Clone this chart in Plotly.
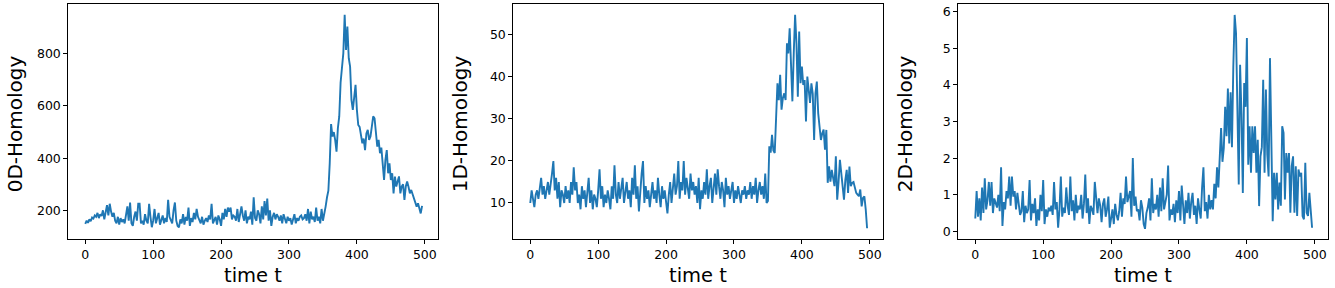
import plotly.graph_objects as go

# time axis, sampled every 2 steps
TIME = list(range(0, 498, 2))

HOMOLOGY_0D = [
    148, 160, 152, 165, 158, 172, 168, 180, 175, 190,
    170, 185, 178, 200, 165, 192, 220, 180, 225, 195,
    175, 190, 160, 150, 175, 145, 170, 155, 165, 150,
    180, 215, 160, 230, 150, 140, 175, 195, 160, 225,
    225, 150, 160, 145, 185, 160, 150, 225, 175, 135,
    160, 205, 150, 175, 190, 145, 165, 180, 150, 170,
    155, 240, 175, 160, 150, 200, 230, 160, 140, 135,
    165, 150, 185, 145, 175, 160, 210, 140, 170, 155,
    190, 165, 205, 175, 160, 150, 175, 145, 160, 170,
    155, 180, 165, 225, 150, 160, 175, 145, 180, 165,
    140, 190, 165, 205, 175, 210, 195, 210, 165, 180,
    175, 160, 205, 155, 195, 215, 180, 160, 200, 150,
    175, 165, 195, 145, 250, 170, 160, 200, 185, 150,
    215, 165, 235, 180, 245, 160, 200, 140, 175, 190,
    165, 185, 175, 160, 180, 150, 185, 165, 150, 175,
    160, 170, 145, 165, 185, 150, 170, 160, 175, 180,
    165, 170, 185, 160, 205, 150, 195, 165, 175, 155,
    210, 160, 175, 150, 205,
    160, 185, 215, 250, 275, 380, 531, 483, 500, 470,
    425, 515, 560, 690, 735, 802, 950, 815, 905, 783,
    751, 623, 585, 649, 681, 585, 527, 520, 495, 457,
    475, 431, 495, 508, 470, 483, 521, 560, 553, 490,
    444, 470, 419, 440, 368, 316, 393, 431, 342, 380,
    316, 342, 265, 329, 291, 316, 330, 265, 291, 300,
    240, 291, 310, 290, 265, 278, 260, 240, 225, 214,
    227, 201, 188, 217,
]

HOMOLOGY_1D = [
    10, 13, 11, 9, 12, 13, 11, 14, 16, 12,
    14, 11, 13, 15, 12, 14, 17, 20, 13, 16,
    11, 15, 9, 13, 12, 10, 14, 11, 13, 10,
    15, 12, 18.5, 13, 15, 10, 12, 8.5, 14, 11,
    13, 9, 12, 16, 10, 13, 8.5, 12, 11, 9,
    13, 18, 11, 14, 9, 12, 10, 13, 11, 8.5,
    14, 11, 19, 12, 10, 15, 11, 13, 16, 10,
    12, 15, 11, 13, 9, 16, 12, 19, 11, 14,
    8, 13, 17, 20, 10, 14, 11, 13, 9, 12,
    15, 11, 13, 10, 16, 12, 9, 14, 11, 13,
    10, 7.5, 12, 15, 10, 13, 17, 12, 14, 20,
    11, 15, 13, 20, 12, 16, 14, 11, 17, 13,
    15, 12, 14, 10, 16, 8.5, 13, 11, 15, 12,
    18, 11, 14, 16, 10, 13, 17, 12, 18, 14,
    11, 15, 13, 9, 16, 12, 14, 11, 13, 15,
    10, 13, 11, 14, 12, 10, 13, 12, 14, 11,
    13, 12, 15, 11, 14, 12, 16, 10, 13, 15,
    12, 14, 11, 17, 10,
    10.5, 23.5, 22, 26.2, 22.5, 21.9, 30, 38.5, 34.5, 40.5,
    32.2, 35, 36.1, 34.5, 48, 45.6, 51.6, 42.5, 34.2, 45.6,
    54.8, 48, 35.3, 50.8, 38.5, 42.5, 38.1, 39.3, 29.4, 40.1,
    36.1, 33.8, 38.5, 36, 25, 36.1, 38.9, 31.4, 28.2, 25,
    26.6, 27.5, 22.7, 27.4, 14.8, 18.7, 15.1, 17.9, 16, 14,
    21.1, 10.8, 15, 20.3, 17.1, 14, 10.8, 15.5, 17.9, 12.4,
    18.7, 14, 14.8, 15, 13.2, 12.4, 12, 11.6, 13.2, 9.2,
    11.2, 11.6, 8.5, 4,
]

HOMOLOGY_2D = [
    0.35, 1.1, 0.4, 0.9, 0.3, 1.2, 0.5, 1.45, 0.6, 0.85,
    1.35, 0.7, 1.35, 0.5, 0.9, 0.75, 0.65, 1.0, 0.55, 1.75,
    0.15, 0.8, 0.6, 1.1, 0.9, 1.5, 0.7, 1.5, 0.95, 1.1,
    0.6, 1.05, 0.8, 0.45, 0.55, 1.1, 0.25, 0.7, 0.5, 0.6,
    1.4, 0.3, 0.75, 0.5, 0.9, 0.15, 0.6, 0.3, 1.0, 0.55,
    1.4, 0.2, 0.6, 0.4, 0.65, 0.55, 0.7, 0.45, 1.35, 0.6,
    0.8, 0.1, 0.6, 1.5, 0.4, 0.65, 0.5, 1.2, 0.7, 0.45,
    1.5, 0.55, 0.85, 0.3, 1.0, 0.5, 0.7, 0.6, 1.0, 0.35,
    0.75, 1.55, 0.5, 0.9, 0.2, 0.7, 0.6, 0.45, 1.35, 0.8,
    0.5, 0.9, 0.7, 0.25, 0.75, 0.9, 0.4, 0.6, 0.95, 0.1,
    0.35, 0.6, 0.2, 0.75, 0.45, 0.3, 0.55, 1.05, 0.4, 0.9,
    0.75, 1.5, 0.8, 0.95, 1.1, 0.4, 2.0, 0.7, 0.95, 0.55,
    0.6, 0.3, 0.85, 0.65, 0.2, 0.07, 0.5, 0.65, 0.9, 0.3,
    1.45, 0.5, 0.75, 0.6, 1.0, 0.4, 1.2, 0.55, 1.45, 0.6,
    0.8, 1.0, 1.8, 0.3, 0.6, 0.45, 0.75, 0.25, 0.85, 0.5,
    1.1, 0.3, 1.25, 0.6, 0.2, 0.85, 0.5, 1.05, 0.35, 0.8,
    1.05, 0.45, 0.7, 0.2, 0.9, 0.6, 0.35, 1.2, 1.75, 0.55,
    0.8, 0.35, 1.0, 0.6, 0.85,
    0.6, 1.3, 0.9, 1.75, 1.2, 2.0, 2.82, 1.9, 2.28, 3.4,
    2.6, 3.9, 2.4, 3.8, 2.3, 4.5, 5.91, 5.41, 3.0, 1.28,
    4.55, 3.2, 1.05, 4.05, 3.4, 5.28, 1.82, 2.87, 1.6, 2.87,
    2.14, 2.87, 1.6, 2.5, 0.69, 2.05, 2.3, 4.14, 1.6, 3.87,
    2.1, 1.5, 4.73, 2.0, 0.28, 1.6, 0.87, 1.6, 0.6, 1.33,
    0.7, 2.87, 2.69, 0.87, 2.14, 1.6, 2.14, 0.51, 1.78, 2.05,
    0.51, 1.78, 0.42, 1.69, 1.5, 1.6, 0.42, 0.33, 1.87, 0.51,
    0.42, 1.05, 0.6, 0.1,
]

Y_TITLES = ["0D-Homology", "1D-Homology", "2D-Homology"]
X_TICKS = [0, 100, 200, 300, 400, 500]
Y_TICKS = [[200, 400, 600, 800], [10, 20, 30, 40, 50], [0, 1, 2, 3, 4, 5, 6]]

W, H = 1335, 288
FONT = "DejaVu Sans"
BLUE = "#1f77b4"

# panel boxes in pixels (left, right), shared top/bottom
panels = [(68.3, 437.7), (513.3, 882.7), (958.3, 1327.7)]
top_px, bottom_px = 4.3, 238.7
y_ranges = [[91, 990], [1.5, 57.3], [-0.2, 6.2]]

fig = go.Figure()
series = [HOMOLOGY_0D, HOMOLOGY_1D, HOMOLOGY_2D]

for i, (vals, (lpx, rpx)) in enumerate(zip(series, panels)):
    n = "" if i == 0 else str(i + 1)
    fig.add_trace(go.Scatter(
        x=TIME[:len(vals)], y=vals, mode="lines",
        line=dict(color=BLUE, width=1.9),
        xaxis="x" + n, yaxis="y" + n, showlegend=False,
    ))
    axis_common = dict(
        showline=True, linecolor="black", linewidth=1, mirror=True,
        ticks="outside", ticklen=4, tickwidth=1, tickcolor="black",
        showgrid=False, zeroline=False,
        tickfont=dict(family=FONT, size=12.5, color="black"),
    )
    fig.update_layout({
        "xaxis" + n: dict(
            domain=[lpx / W, rpx / W], range=[-25, 519],
            tickvals=X_TICKS, anchor="y" + n, **axis_common,
        ),
        "yaxis" + n: dict(
            domain=[1 - bottom_px / H, 1 - top_px / H], range=y_ranges[i],
            tickvals=Y_TICKS[i], anchor="x" + n, **axis_common,
        ),
    })
    # axis titles
    fig.add_annotation(
        text="time t", xref="paper", yref="paper",
        x=(lpx + rpx) / 2 / W, y=1 - 275 / H, showarrow=False,
        xanchor="center", yanchor="middle",
        font=dict(family=FONT, size=19.5, color="black"),
    )
    fig.add_annotation(
        text=Y_TITLES[i], xref="paper", yref="paper",
        x=(lpx - 53) / W, y=1 - 124 / H, textangle=-90, showarrow=False,
        xanchor="center", yanchor="middle",
        font=dict(family=FONT, size=20, color="black"),
    )

fig.update_layout(
    width=W, height=H,
    margin=dict(l=0, r=0, t=0, b=0),
    paper_bgcolor="white", plot_bgcolor="white",
)

fig.write_html(
    "out.html",
    config={"displayModeBar": False},
    post_script="document.body.style.margin='0';document.body.style.overflow='hidden';",
)
